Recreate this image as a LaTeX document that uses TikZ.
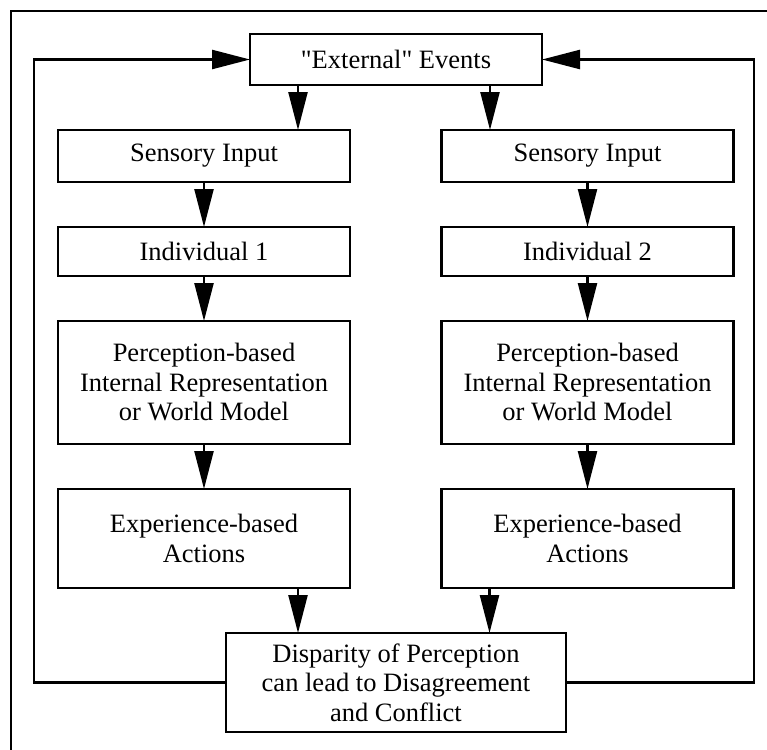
\documentclass[tikz,border=0pt]{standalone}
\usepackage{fontspec}
\setmainfont{Liberation Serif}[Ligatures=TeXOff]
\usepackage{tikz}
\usetikzlibrary{positioning,arrows.meta}
\tikzset{
  flowbox/.style={draw, line width=2.4bp, align=center, inner sep=2bp,
                  outer sep=0pt, font=\fontsize{26.5bp}{29.5bp}\selectfont},
  flowarrow/.style={-{Triangle[length=38bp, width=19bp]}, line width=2.4bp},
  frameline/.style={line width=2.6bp},
}
\begin{document}
\begin{tikzpicture}[
  cbox/.style={flowbox, minimum width=292bp},
  node distance=45bp
]
\useasboundingbox (0,0) rectangle (767bp,-750bp);
\draw[frameline] (767bp,-11bp) -- (11bp,-11bp) -- (11bp,-750bp);

%% Source
\node[cbox, minimum height=51bp] (ext) at (396bp,-59.5bp) {"External" Events};

%% Column 1
\node[cbox, minimum height=52bp, below=45bp of ext, xshift=-192bp] (sens1) {Sensory Input};
\node[cbox, minimum height=49bp, below=of sens1] (ind1) {Individual 1};
\node[cbox, minimum height=123bp, below=of ind1] (perc1) {Perception-based\\Internal Representation\\or World Model};
\node[cbox, minimum height=99bp, below=of perc1] (exp1) {Experience-based\\Actions};

%% Column 2
\node[cbox, minimum height=52bp, below=45bp of ext, xshift=191.5bp] (sens2) {Sensory Input};
\node[cbox, minimum height=49bp, below=of sens2] (ind2) {Individual 2};
\node[cbox, minimum height=123bp, below=of ind2] (perc2) {Perception-based\\Internal Representation\\or World Model};
\node[cbox, minimum height=99bp, below=of perc2] (exp2) {Experience-based\\Actions};

%% Outcome
\node[flowbox, minimum width=340bp, minimum height=99bp, below=45bp of exp1, xshift=192bp] (disp) {Disparity of Perception\\can lead to Disagreement\\and Conflict};

%% Edges
\draw[flowarrow] ([xshift=48bp]ext.south west) -- ([xshift=48bp]ext.south west |- sens1.north);
\draw[flowarrow] ([xshift=-52bp]ext.south east) -- ([xshift=-52bp]ext.south east |- sens2.north);
\draw[flowarrow] (sens1) -- (ind1);
\draw[flowarrow] (ind1) -- (perc1);
\draw[flowarrow] (perc1) -- (exp1);
\draw[flowarrow] (sens2) -- (ind2);
\draw[flowarrow] (ind2) -- (perc2);
\draw[flowarrow] (perc2) -- (exp2);
\draw[flowarrow] ([xshift=-52bp]exp1.south east) -- ([xshift=-52bp]exp1.south east |- disp.north);
\draw[flowarrow] ([xshift=48bp]exp2.south west) -- ([xshift=48bp]exp2.south west |- disp.north);

%% Feedback loops
\draw[flowarrow] (disp.west) -- ++(-192bp,0) |- (ext.west);
\draw[flowarrow] (disp.east) -- ++(188bp,0) |- (ext.east);
\end{tikzpicture}
\end{document}
